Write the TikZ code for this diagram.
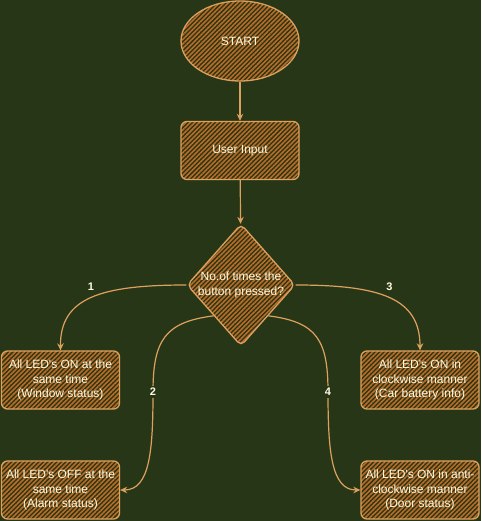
\documentclass[tikz,border=0pt]{standalone}
\usepackage{fontspec}
\setmainfont{Liberation Sans}
\usepackage{tikz}
\usetikzlibrary{arrows.meta,positioning,shapes.geometric,patterns.meta}
\definecolor{boardgreen}{RGB}{40,54,24}
\definecolor{sketchorange}{RGB}{221,161,94}
\definecolor{hatchbrown}{RGB}{188,108,37}
\definecolor{labelcream}{RGB}{254,250,224}
\tikzset{
  sketchfill/.style={
    draw=sketchorange,
    line width=1.3pt,
    pattern={Lines[angle=45,distance=3.2pt,line width=1.6pt]},
    pattern color=hatchbrown,
    text=labelcream,
    align=center,
    font=\fontsize{12}{14.4}\selectfont
  },
  startnode/.style={
    sketchfill,
    ellipse,
    minimum width=118pt,
    minimum height=80pt,
    inner sep=0pt
  },
  procbox/.style={
    sketchfill,
    rounded corners=6pt,
    minimum width=118pt,
    minimum height=58pt,
    inner sep=0pt
  },
  decnode/.style={
    sketchfill,
    diamond,
    rounded corners=5pt,
    minimum width=108pt,
    minimum height=122pt,
    inner sep=0pt
  },
  boxtext/.style={
    text=labelcream,
    align=center,
    font=\fontsize{12}{14.4}\selectfont
  },
  flowarrow/.style={
    -{Stealth[open,length=7pt,width=6.5pt]},
    line width=1.2pt,
    draw=sketchorange
  },
  edgelabel/.style={
    text=labelcream,
    font=\fontsize{11}{13}\selectfont\bfseries,
    inner sep=2pt
  }
}
\begin{document}
\begin{tikzpicture}[x=1pt,y=-1pt]
  \fill[boardgreen] (0,0) rectangle (481,521);
  \useasboundingbox (0,0) rectangle (481,521);

  \node[startnode] (start) at (240,41) {START};
  \node[procbox] (input) at (240,150.5) {User Input};
  \node[decnode] (dec) at (241,285) {};
  \node[boxtext] (dectext) at (dec) {No.of times the\\button pressed?};

  \node[procbox] (lt) at (60.5,380) {All LED\textquotesingle s ON at the\\same time\\(Window status)};
  \node[procbox] (rt) at (420,380) {All LED\textquotesingle s ON in\\clockwise manner\\(Car battery info)};
  \node[procbox] (lb) at (60.5,490) {All LED\textquotesingle s OFF at the\\same time\\(Alarm status)};
  \node[procbox] (rb) at (420,490) {All LED\textquotesingle s ON in anti-\\clockwise manner\\(Door status)};

  \draw[flowarrow] (start) -- (input);
  \draw[flowarrow] (input) -- (dec);
  \draw[flowarrow] (dec.west) .. controls (100,285) and (60,298) .. (lt.north)
    node[edgelabel, pos=0.5, above=5pt] {1};
  \draw[flowarrow] (dec.east) .. controls (380,285) and (420,298) .. (rt.north)
    node[edgelabel, pos=0.5, above=5pt] {3};
  \draw[flowarrow] (dec.south west) .. controls (165,322) and (153,340) .. (153,392)
    node[edgelabel, fill=boardgreen] {2}
    .. controls (153,450) and (150,490) .. (lb.east);
  \draw[flowarrow] (dec.south east) .. controls (317,322) and (328,340) .. (328,392)
    node[edgelabel, fill=boardgreen] {4}
    .. controls (328,450) and (331,490) .. (rb.west);
\end{tikzpicture}
\end{document}
